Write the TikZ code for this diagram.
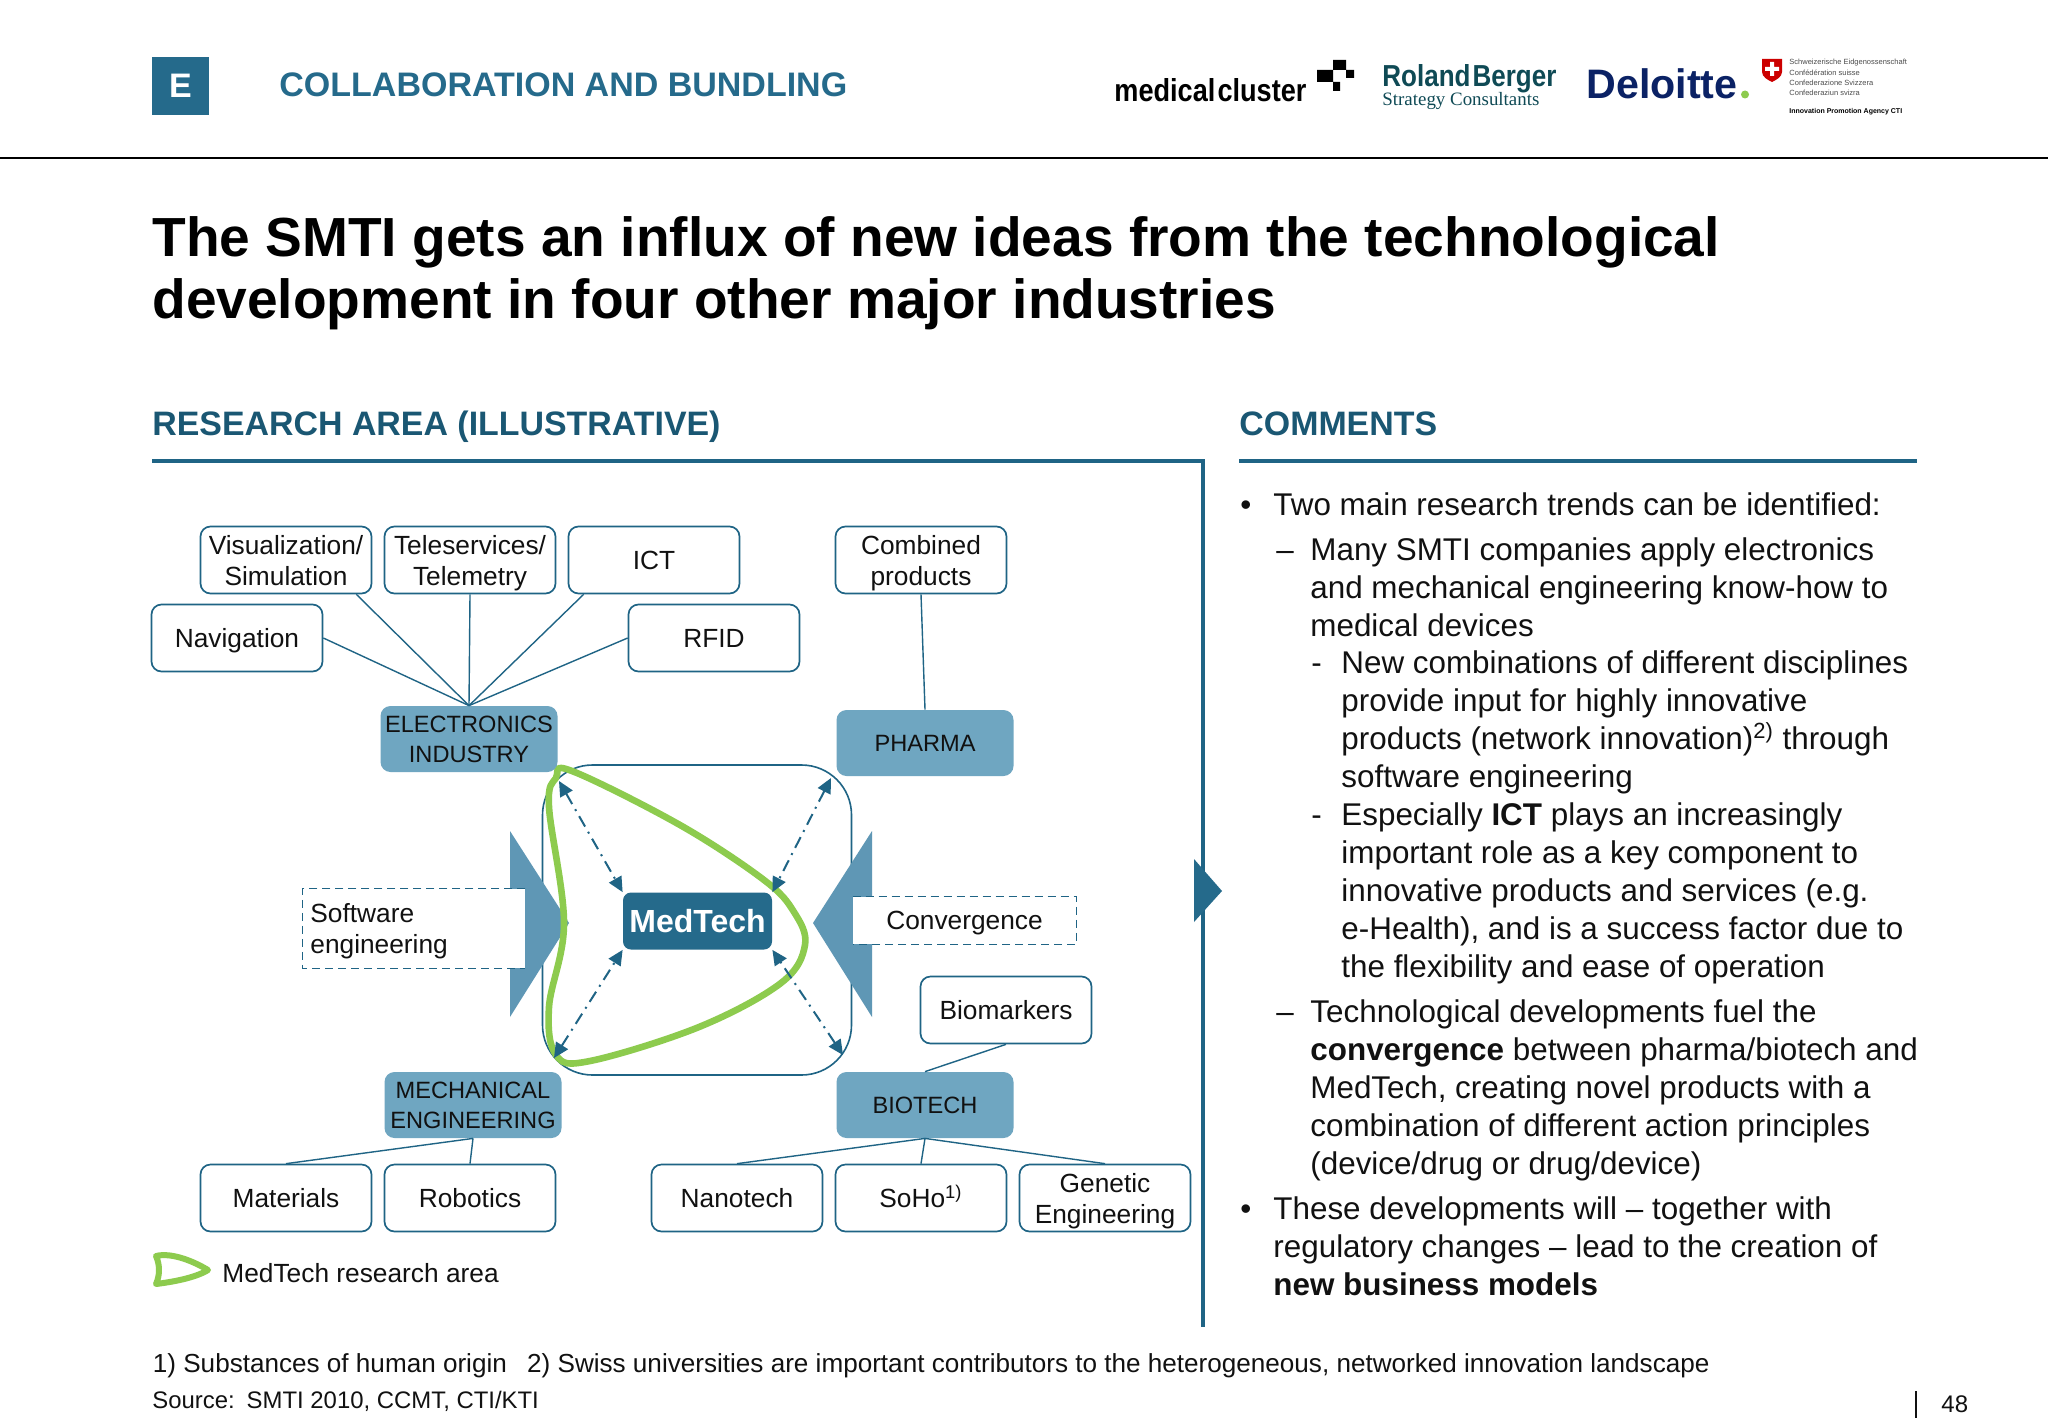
\documentclass[tikz,border=0pt]{standalone}
\usepackage{fontspec}
\setmainfont{Liberation Sans}
\usetikzlibrary{arrows.meta,calc}
\definecolor{teal}{HTML}{1F6485}
\definecolor{darkteal}{HTML}{1A5773}
\definecolor{catfill}{HTML}{6FA6C1}
\definecolor{trifill}{HTML}{5F97B5}
\definecolor{medfill}{HTML}{256A8B}
\definecolor{greenarea}{HTML}{8DCB4E}
\definecolor{rbteal}{HTML}{0F4A55}
\definecolor{delnavy}{HTML}{0B2265}
\definecolor{txt}{HTML}{111111}
\newcommand{\lbstrut}{\rule[-3.7pt]{0pt}{16.7pt}}
\newcommand{\catstrut}{\rule[-3.6pt]{0pt}{15.6pt}}
\newcommand{\twol}[2]{\raisebox{0pt}[0pt][0pt]{\begin{tabular}{@{}c@{}}#1\\#2\end{tabular}}}
\tikzset{
  lbox/.style={draw=teal,line width=0.85pt,fill=white,rounded corners=5pt,minimum width=85.5pt,minimum height=33.5pt,inner sep=1pt,align=center,font=\fontsize{13.15}{15.5}\selectfont,text=txt,execute at begin node=\lbstrut},
  catbox/.style={fill=catfill,rounded corners=5pt,minimum width=88.5pt,minimum height=33pt,inner sep=1pt,align=center,font=\fontsize{11.8}{15}\selectfont,text=txt,execute at begin node=\catstrut},
  link/.style={draw=teal,line width=0.7pt},
  dd/.style={draw=teal,line width=1pt,dash pattern=on 6pt off 3pt on 1pt off 3pt,{Triangle[length=7.5pt,width=7pt]}-{Triangle[length=7.5pt,width=7pt]}},
  rule/.style={draw=teal,line width=2pt},
  area/.style={draw=greenarea,line join=round},
  para/.style={anchor=base west,inner sep=0pt,align=left,font=\fontsize{15.7}{19}\selectfont,text=txt},
  head/.style={anchor=base west,inner sep=0pt,font=\fontsize{16.95}{20}\selectfont\bfseries,text=darkteal},
  dashb/.style={fill=white,inner sep=0pt,font=\fontsize{13.15}{15.5}\selectfont,text=txt,execute at begin node=\lbstrut},
  dashl/.style={draw=teal,line width=0.6pt,dashed,dash pattern=on 4pt off 2.5pt},
  tiny/.style={anchor=west,inner sep=0pt,font=\fontsize{3.75}{4}\selectfont,text=black!70},
}
\begin{document}
\begin{tikzpicture}[x=0.5pt,y=-0.5pt]
\useasboundingbox[fill=white] (0,0) rectangle (2048,1418);
% header
\node[fill=medfill,minimum width=28.5pt,minimum height=29pt,inner sep=0pt,text=white,font=\fontsize{17}{20}\selectfont\bfseries] (e) at (180.5,86) {E};
\node[anchor=west,inner sep=0pt,text=medfill,font=\fontsize{17}{20}\selectfont\bfseries] (hd) at (279,85) {COLLABORATION AND BUNDLING};
\coordinate (tl) at (0,158); \coordinate (tr) at (2048,158);
\draw[line width=0.7pt,black] (tl) -- (tr);
% logos
\node[anchor=base west,inner sep=0pt,font=\bfseries] (mc) at (1114,101) {\resizebox{96pt}{11.5pt}{medical\hspace{0.08em}cluster}};
\fill[black] (1333,60) rectangle (1346,70) (1317,70) rectangle (1333,82) (1346,70) rectangle (1354,78) (1333,82) rectangle (1340,91);
\node[anchor=base west,inner sep=0pt,text=rbteal,font=\bfseries] (rb) at (1382,86) {\resizebox{87pt}{11pt}{Roland\hspace{0.08em}Berger}};
\node[anchor=base west,inner sep=0pt,text=rbteal] (sc) at (1382,105) {\fontspec{Liberation Serif}\resizebox{78.5pt}{!}{Strategy Consultants}};
\node[anchor=base west,inner sep=0pt,text=delnavy,font=\bfseries] (de) at (1586,98) {\resizebox{75.5pt}{!}{Deloitte}};
\fill[greenarea] (1745,94.5) circle (4);
\fill[red!80!black] (1762,59) -- (1782,59) -- (1782,72) .. controls (1782,77) and (1776,80) .. (1772,82) .. controls (1768,80) and (1762,77) .. (1762,72) -- cycle;
\fill[white] (1770,62) rectangle (1774,76) (1765,67) rectangle (1779,71);
\node[tiny] (s1) at (1789,63) {Schweizerische Eidgenossenschaft};
\node[tiny] (s2) at (1789,73) {Confédération suisse};
\node[tiny] (s3) at (1789,83) {Confederazione Svizzera};
\node[tiny] (s4) at (1789,93) {Confederaziun svizra};
\node[tiny,text=black,font=\fontsize{3.5}{4}\selectfont\bfseries] (s5) at (1789,112) {Innovation Promotion Agency CTI};
% title
\node[anchor=base west,inner sep=0pt,align=left,text=black,font=\fontsize{27.55}{30.7}\selectfont\bfseries] (title) at (152,318) {The SMTI gets an influx of new ideas from the technological\\development in four other major industries};
% section heads
\node[head] (h1) at (152,435) {RESEARCH AREA (ILLUSTRATIVE)};
\node[head] (h2) at (1239,435) {COMMENTS};
\coordinate (r1) at (152,461); \coordinate (r2) at (1203,461); \coordinate (r3) at (1203,1327);
\coordinate (r4) at (1239,461); \coordinate (r5) at (1917,461);
\draw[rule,line join=miter] (r1) -- (r2) -- (r3);
\draw[rule] (r4) -- (r5);
\fill[medfill] (1194,859) -- (1222,891) -- (1194,922) -- cycle;
% central frame
\node[draw=teal,line width=0.8pt,rounded corners=25pt,minimum width=154.5pt,minimum height=155pt,inner sep=0pt] (frame) at (697,920) {};
\fill[trifill] (510,831) -- (569,923) -- (510,1017) -- cycle;
\fill[trifill] (872,831) -- (813,923) -- (872,1017) -- cycle;
% dashed boxes
\node[dashb,minimum width=111pt,minimum height=39.5pt] (sw) at (414,928.5) {};
\node[anchor=west,inner sep=0pt,align=left,font=\fontsize{13.15}{15.5}\selectfont,text=txt] (swt) at (310,931.5) {Software\\engineering};
\draw[dashl] (sw.north east) -- (sw.north west) -- (sw.south west) -- (sw.south east);
\node[dashb,minimum width=111.5pt,minimum height=23.5pt] (cv) at (964.5,920.5) {Convergence};
\draw[dashl] (cv.north west) -- (cv.north east) -- (cv.south east) -- (cv.south west);
% MedTech and arrows
\node[fill=medfill,rounded corners=4pt,minimum width=74.5pt,minimum height=28.5pt,inner sep=0pt,text=white,font=\fontsize{16}{20}\selectfont\bfseries] (medt) at (697.5,921) {MedTech};
\draw[area,line width=3.3pt] plot[smooth cycle,tension=0.6] coordinates {(572,771) (680,825) (764,880) (794,912) (805,945) (781,983) (699,1027) (590,1061) (556,1055) (549,1007) (564,923) (549,807) (556,778)};
\coordinate (c1) at (559,781); \coordinate (c2) at (831,778); \coordinate (c3) at (554,1058); \coordinate (c4) at (843,1055);
\draw[dd] (c1) -- (medt.north west);
\draw[dd] (c2) -- (medt.north east);
\draw[dd] (c3) -- (medt.south west);
\draw[dd] (c4) -- (medt.south east);
% boxes
\node[lbox] (vis) at (286,560) {\twol{Visualization/}{Simulation}};
\node[lbox] (tele) at (470,560) {\twol{Teleservices/}{Telemetry}};
\node[lbox] (ict) at (654,560) {ICT};
\node[lbox] (comb) at (921,560) {\twol{Combined}{products}};
\node[lbox] (nav) at (237,638) {Navigation};
\node[lbox] (rfid) at (714,638) {RFID};
\node[catbox] (elec) at (469,739) {\twol{ELECTRONICS}{INDUSTRY}};
\node[catbox] (pharma) at (925,743) {PHARMA};
\node[lbox] (bio) at (1006,1010) {Biomarkers};
\node[catbox] (mech) at (473,1105) {\twol{MECHANICAL}{ENGINEERING}};
\node[catbox] (biot) at (925,1105) {BIOTECH};
\node[lbox] (mat) at (286,1198) {Materials};
\node[lbox] (rob) at (470,1198) {Robotics};
\node[lbox] (nano) at (737,1198) {Nanotech};
\node[lbox] (soho) at (921,1198) {SoHo\textsuperscript{1)}};
\node[lbox] (gen) at (1105,1198) {\twol{Genetic}{Engineering}};
% links
\draw[link] (nav.east) -- (elec.north);
\draw[link] ([xshift=-8pt]vis.south east) -- (elec.north);
\draw[link] (tele.south) -- (elec.north);
\draw[link] ([xshift=8pt]ict.south west) -- (elec.north);
\draw[link] (rfid.west) -- (elec.north);
\draw[link] (comb.south) -- (pharma.north);
\draw[link] (bio.south) -- (biot.north);
\draw[link] (mat.north) -- (mech.south);
\draw[link] (rob.north) -- (mech.south);
\draw[link] (nano.north) -- (biot.south);
\draw[link] (soho.north) -- (biot.south);
\draw[link] (gen.north) -- (biot.south);
% legend
\draw[area,line width=3pt] (156,1256) .. controls (172,1252) and (195,1262) .. (208,1270) .. controls (195,1278) and (172,1282) .. (156,1284) .. controls (160,1275) and (160,1265) .. (156,1256) -- cycle;
\node[anchor=west,inner sep=0pt,font=\fontsize{13.15}{15.5}\selectfont,text=txt] (leg) at (222,1273) {MedTech research area};
% comments
\node[para] (b1) at (1240,515) {•};
\node[para] (t1) at (1273,515) {Two main research trends can be identified:};
\node[para] (b2) at (1276,560) {–};
\node[para] (t2) at (1310,636) {Many SMTI companies apply electronics\\and mechanical engineering know-how to\\medical devices};
\node[para] (b3) at (1311,673) {-};
\node[para] (t3) at (1341,787) {New combinations of different disciplines\\provide input for highly innovative\\products (network innovation)\textsuperscript{2)} through\\software engineering};
\node[para] (b4) at (1311,825) {-};
\node[para] (t4) at (1341,977) {Especially \textbf{ICT} plays an increasingly\\important role as a key component to\\innovative products and services (e.g.\\e-Health), and is a success factor due to\\the flexibility and ease of operation};
\node[para] (b5) at (1276,1022) {–};
\node[para] (t5) at (1310,1174) {Technological developments fuel the\\\textbf{convergence} between pharma/biotech and\\MedTech, creating novel products with a\\combination of different action principles\\(device/drug or drug/device)};
\node[para] (b6) at (1240,1219) {•};
\node[para] (t6) at (1273,1295) {These developments will – together with\\regulatory changes – lead to the creation of\\\textbf{new business models}};
% footer
\node[anchor=base west,inner sep=0pt,font=\fontsize{13.05}{15}\selectfont,text=txt] (fn) at (152.5,1372) {1) Substances of human origin\hspace{0.5em} 2) Swiss universities are important contributors to the heterogeneous, networked innovation landscape};
\node[anchor=base west,inner sep=0pt,font=\fontsize{11.95}{15}\selectfont,text=txt] (src) at (152,1408) {Source:\hspace{0.13em} SMTI 2010, CCMT, CTI/KTI};
\coordinate (p1) at (1916,1391); \coordinate (p2) at (1916,1418);
\draw[line width=0.6pt,txt] (p1) -- (p2);
\node[anchor=base west,inner sep=0pt,font=\fontsize{12}{15}\selectfont,text=txt] (pg) at (1941,1412) {48};
\end{tikzpicture}
\end{document}
